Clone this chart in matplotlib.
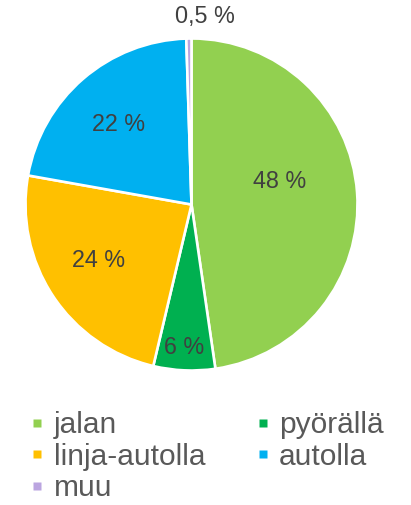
import numpy as np
import matplotlib.pyplot as plt
from matplotlib.lines import Line2D

plt.rcParams["font.family"] = ["Liberation Sans", "DejaVu Sans"]

# --- data ---
modes = ["jalan", "pyörällä", "linja-autolla", "autolla", "muu"]
shares = [47.7, 6.0, 24.1, 21.7, 0.5]
colors = ["#92D050", "#00B050", "#FFC000", "#00B0F0", "#BBA5E0"]

# label positions (relative to pie centre, in radius units)
label_pos = [(0.533, 0.136), (-0.045, -0.864), (-0.557, -0.34),
             (-0.437, 0.479), (0.081, 1.13)]


def fmt(v):
    if v < 1:
        return f"{v:.1f}".replace(".", ",") + " %"
    return f"{round(v):d} %"


fig = plt.figure(figsize=(4.11, 5.05), dpi=100)
ax = fig.add_axes([25.5 / 411, 134.5 / 505, 332 / 411, 332 / 505])

wedges, _ = ax.pie(shares, colors=colors, startangle=90, counterclock=False,
                   radius=1, wedgeprops=dict(edgecolor="white", linewidth=1.9))
ax.set_xlim(-1, 1)
ax.set_ylim(-1, 1)

for v, (x, y) in zip(shares, label_pos):
    ax.text(x, y, fmt(v), ha="center", va="center", fontsize=16.8,
            color="#404040", clip_on=False)

# legend, row-major order like the original
order = [0, 2, 4, 1, 3]
handles = [Line2D([], [], ls="none", marker="s", markersize=5.6,
                  markerfacecolor=colors[i], markeredgecolor="none") for i in order]
fig.legend(handles, [modes[i] for i in order], ncol=2, frameon=False,
           loc="upper left", bbox_to_anchor=(30 / 411, 1 - 411 / 505),
           fontsize=21.5, labelcolor="#595959", handlelength=0.5,
           handletextpad=0.3, labelspacing=0.12, columnspacing=1.67,
           borderpad=0, borderaxespad=0)

plt.savefig("out.png", dpi=100)
